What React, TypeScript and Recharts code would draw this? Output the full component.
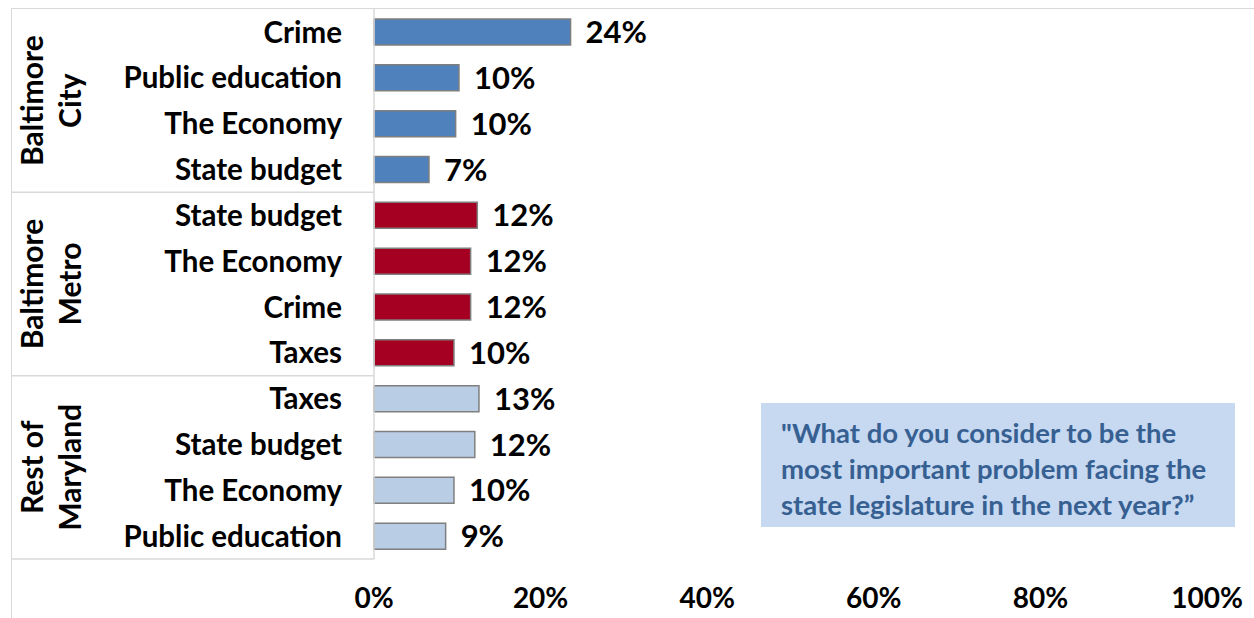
import React from "react";
import { BarChart, Bar, XAxis, YAxis, Cell, LabelList } from "recharts";

const groups = ["Baltimore|City", "Baltimore|Metro", "Rest of|Maryland"];
const categories = [
  "Crime", "Public education", "The Economy", "State budget",
  "State budget", "The Economy", "Crime", "Taxes",
  "Taxes", "State budget", "The Economy", "Public education",
];
const groupOf = [0, 0, 0, 0, 1, 1, 1, 1, 2, 2, 2, 2];
const values = [23.6, 10.2, 9.8, 6.6, 12.4, 11.6, 11.6, 9.6, 12.6, 12.1, 9.6, 8.6];
const xTicks = [0, 20, 40, 60, 80, 100];
const groupColors = ["#4F81BD", "#A50021", "#B9CDE5"];
const noteLines = [
  "\"What do you consider to be the",
  "most important problem facing the",
  "state legislature in the next year?\u201D",
];

const data = categories.map((c, i) => ({ id: String(i), name: c, value: values[i], group: groupOf[i] }));

const W = 1254;
const H = 618;
const TOP = 9;
const XAXIS_H = 59;
const YAXIS_W = 374;
const RIGHT = 47;
const PLOT_H = H - TOP - XAXIS_H;
const ROW_H = PLOT_H / categories.length;
const FONT = "Lato, 'Open Sans', sans-serif";
const GRID = "#D9D9D9";

const YTick = (props: any) => {
  const { y, payload } = props;
  const i = Number(payload.value);
  const g = groupOf[i];
  const isLastInGroup = i === groupOf.length - 1 || groupOf[i + 1] !== g;
  const firstIdx = groupOf.indexOf(g);
  const lastIdx = groupOf.lastIndexOf(g);
  const isMid = i === Math.floor((firstIdx + lastIdx) / 2);
  const lines = groups[g].split("|");
  const groupCenterY = y + ((lastIdx - firstIdx) / 2 - (i - firstIdx)) * ROW_H;
  return (
    <g>
      <text
        x={342}
        y={y}
        dy="0.36em"
        textAnchor="end"
        fontFamily={FONT}
        fontWeight={700}
        fontSize={29.5}
        fill="#000"
      >
        {categories[i]}
      </text>
      {isLastInGroup && (
        <line x1={11} x2={YAXIS_W} y1={y + ROW_H / 2} y2={y + ROW_H / 2} stroke={GRID} strokeWidth={1.5} />
      )}
      {isMid &&
        lines.map((ln, k) => (
          <text
            key={k}
            transform={`translate(${43 + k * 38}, ${groupCenterY}) rotate(-90)`}
            textAnchor="middle"
            fontFamily={FONT}
            fontWeight={700}
            fontSize={30}
            fill="#000"
          >
            {ln}
          </text>
        ))}
    </g>
  );
};

const XTick = (props: any) => {
  const { x, y, payload } = props;
  return (
    <text
      x={x}
      y={y}
      dy={30}
      textAnchor="middle"
      dominantBaseline="central"
      fontFamily={FONT}
      fontWeight={700}
      fontSize={28}
      fill="#000"
    >
      {payload.value + "%"}
    </text>
  );
};

export default function App() {
  return (
    <div style={{ position: "absolute", left: 0, top: 0, width: W, height: H, background: "#fff" }}>
      <div
        style={{
          position: "absolute",
          left: 11,
          top: 8,
          width: W - 11,
          height: H - 8,
          borderTop: `1.5px solid ${GRID}`,
          borderLeft: `1.5px solid ${GRID}`,
          boxSizing: "border-box",
        }}
      />
      <div style={{ position: "absolute", left: 0, top: 0 }}>
        <BarChart
          width={W}
          height={H}
          data={data}
          layout="vertical"
          margin={{ top: TOP, right: RIGHT, bottom: 0, left: 0 }}
        >
          <XAxis
            type="number"
            domain={[0, 100]}
            ticks={xTicks}
            axisLine={false}
            tickLine={false}
            height={XAXIS_H}
            tick={<XTick />}
            interval={0}
          />
          <YAxis
            type="category"
            dataKey="id"
            width={YAXIS_W}
            axisLine={{ stroke: GRID, strokeWidth: 1.5 }}
            tickLine={false}
            tick={<YTick />}
            interval={0}
          />
          <Bar dataKey="value" isAnimationActive={false} stroke="#7F7F7F" strokeWidth={1.5} barSize={26}>
            {data.map((d, i) => (
              <Cell key={i} fill={groupColors[d.group]} />
            ))}
            <LabelList
              dataKey="value"
              position="right"
              offset={15}
              formatter={(v: any) => Math.round(Number(v)) + "%"}
              style={{ fontFamily: FONT, fontWeight: 700, fontSize: 31, fill: "#000" }}
            />
          </Bar>
        </BarChart>
      </div>
      <div
        style={{
          position: "absolute",
          left: 761,
          top: 403,
          width: 474,
          height: 124,
          background: "#C6D9F1",
          color: "#376092",
          fontFamily: FONT,
          fontWeight: 700,
          fontSize: 27.5,
          lineHeight: "36px",
          paddingLeft: 20,
          paddingTop: 12,
          boxSizing: "border-box",
          whiteSpace: "nowrap",
        }}
      >
        {noteLines.map((l, i) => (
          <div key={i}>{l}</div>
        ))}
      </div>
    </div>
  );
}
